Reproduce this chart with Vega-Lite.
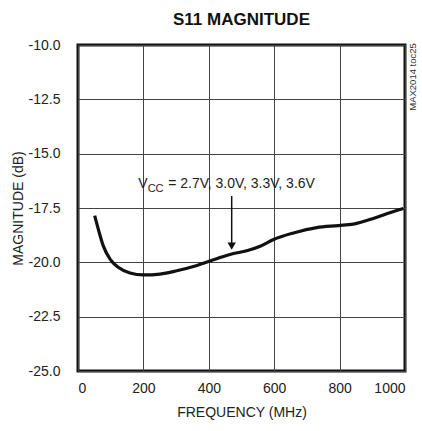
{
  "$schema": "https://vega.github.io/schema/vega-lite/v6.json",
  "width": 327,
  "height": 326,
  "autosize": {"type": "none"},
  "padding": {"left": 78, "top": 45, "right": 17, "bottom": 60},
  "background": "white",
  "config": {
    "font": "Liberation Sans",
    "view": {"stroke": "#111", "strokeWidth": 3},
    "axis": {"domain": false, "ticks": false, "gridColor": "#444", "gridWidth": 1, "gridOpacity": 1,
             "labelFont": "Liberation Sans", "labelFontSize": 14, "labelColor": "#222",
             "titleFont": "Liberation Sans", "titleFontSize": 14, "titleFontWeight": "normal", "titleColor": "#222"}
  },
  "title": {"text": "S11 MAGNITUDE", "font": "Liberation Sans", "fontSize": 17, "fontWeight": "bold", "color": "#111", "offset": 9},
  "datasets": {
    "curve": [
      {"f": 51, "db": -17.85}, {"f": 62, "db": -18.47}, {"f": 77, "db": -19.23}, {"f": 98, "db": -19.85},
      {"f": 123, "db": -20.23}, {"f": 159, "db": -20.49}, {"f": 200, "db": -20.58}, {"f": 251, "db": -20.54},
      {"f": 302, "db": -20.39}, {"f": 353, "db": -20.19}, {"f": 399, "db": -19.96}, {"f": 445, "db": -19.73},
      {"f": 470, "db": -19.62}, {"f": 516, "db": -19.47}, {"f": 557, "db": -19.26}, {"f": 598, "db": -18.95},
      {"f": 659, "db": -18.65}, {"f": 730, "db": -18.4}, {"f": 796, "db": -18.31}, {"f": 842, "db": -18.24},
      {"f": 903, "db": -17.98}, {"f": 944, "db": -17.76}, {"f": 995, "db": -17.52}
    ],
    "arrow": [{"f": 470, "db": -16.95, "db2": -19.2}],
    "head": [{"f": 470, "db": -19.25}],
    "label": [{"f": 184, "db": -16.58}],
    "note": [{"f": 1000, "db": -11.47, "t": "MAX2014 toc25"}]
  },
  "layer": [
    {
      "data": {"name": "curve"},
      "mark": {"type": "line", "color": "#111", "strokeWidth": 3.2, "interpolate": "monotone"},
      "encoding": {
        "x": {"field": "f", "type": "quantitative", "scale": {"domain": [0, 1000], "nice": false},
              "axis": {"values": [0, 200, 400, 600, 800, 1000], "format": "d", "title": "FREQUENCY (MHz)", "labelPadding": 10, "titlePadding": 10}},
        "y": {"field": "db", "type": "quantitative", "scale": {"domain": [-25, -10], "nice": false},
              "axis": {"values": [-25, -22.5, -20, -17.5, -15, -12.5, -10], "labelExpr": "replace(format(datum.value, '.1f'), '\u2212', '-')", "title": "MAGNITUDE (dB)", "labelPadding": 18, "titlePadding": 3}}
      }
    },
    {
      "data": {"name": "arrow"},
      "mark": {"type": "rule", "color": "#111", "strokeWidth": 1.5},
      "encoding": {"x": {"field": "f", "type": "quantitative"}, "y": {"field": "db", "type": "quantitative"}, "y2": {"field": "db2"}}
    },
    {
      "data": {"name": "head"},
      "mark": {"type": "point", "shape": "triangle-down", "filled": true, "color": "#111", "size": 70, "opacity": 1},
      "encoding": {"x": {"field": "f", "type": "quantitative"}, "y": {"field": "db", "type": "quantitative"}}
    },
    {
      "data": {"name": "label"},
      "mark": {"type": "text", "text": "V", "align": "left", "baseline": "alphabetic", "fontSize": 14, "color": "#222"},
      "encoding": {"x": {"field": "f", "type": "quantitative"}, "y": {"field": "db", "type": "quantitative"}}
    },
    {
      "data": {"name": "label"},
      "mark": {"type": "text", "text": "CC", "align": "left", "baseline": "alphabetic", "fontSize": 11, "dx": 9.5, "dy": 3.5, "color": "#222"},
      "encoding": {"x": {"field": "f", "type": "quantitative"}, "y": {"field": "db", "type": "quantitative"}}
    },
    {
      "data": {"name": "label"},
      "mark": {"type": "text", "text": "= 2.7V, 3.0V, 3.3V, 3.6V", "align": "left", "baseline": "alphabetic", "fontSize": 14, "dx": 30, "color": "#222"},
      "encoding": {"x": {"field": "f", "type": "quantitative"}, "y": {"field": "db", "type": "quantitative"}}
    },
    {
      "data": {"name": "note"},
      "mark": {"type": "text", "angle": 270, "align": "center", "baseline": "middle", "fontSize": 9.5, "xOffset": 8, "color": "#333"},
      "encoding": {"x": {"field": "f", "type": "quantitative"}, "y": {"field": "db", "type": "quantitative"}, "text": {"field": "t"}}
    }
  ]
}
